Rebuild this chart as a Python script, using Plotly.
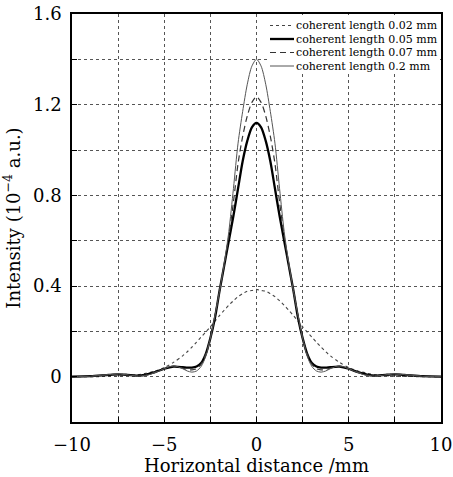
import plotly.graph_objects as go

# x positions (mm)
x_mm = [-10, -9, -8, -7.5, -7, -6.5, -6, -5.5, -5, -4.5, -4, -3.75, -3.5, -3.25, -3, -2.75,
        -2.5, -2.25, -2, -1.75, -1.5, -1.25, -1, -0.75, -0.5, -0.25,
        0, 0.25, 0.5, 0.75, 1, 1.25, 1.5, 1.75, 2, 2.25, 2.5, 2.75, 3, 3.25, 3.5, 3.75,
        4, 4.5, 5, 5.5, 6, 6.5, 7, 7.5, 8, 9, 10]

# Intensities (1e-4 a.u.)
len_002 = [0.0, 0.0, 0.001, 0.002, 0.004, 0.008, 0.015, 0.025, 0.04, 0.063, 0.092, 0.11, 0.13, 0.152,
           0.175, 0.197, 0.22, 0.245, 0.27, 0.293, 0.315, 0.335, 0.353, 0.366, 0.377, 0.38,
           0.385, 0.38, 0.377, 0.366, 0.353, 0.335, 0.315, 0.293, 0.27, 0.245, 0.22, 0.197,
           0.175, 0.152, 0.13, 0.11, 0.092, 0.063, 0.04, 0.025, 0.015, 0.008, 0.004, 0.002, 0.001, 0.0, 0.0]
len_005 = [0.0, 0.002, 0.008, 0.01, 0.008, 0.005, 0.009, 0.02, 0.035, 0.044, 0.042, 0.04, 0.04, 0.045,
           0.06, 0.10, 0.17, 0.26, 0.38, 0.49, 0.60, 0.71, 0.83, 0.95, 1.04, 1.10,
           1.12, 1.10, 1.04, 0.95, 0.83, 0.71, 0.60, 0.49, 0.38, 0.26, 0.17, 0.10,
           0.06, 0.045, 0.04, 0.04, 0.042, 0.044, 0.035, 0.02, 0.009, 0.005, 0.008, 0.01, 0.008, 0.002, 0.0]
len_007 = [0.0, 0.002, 0.008, 0.011, 0.008, 0.004, 0.007, 0.02, 0.035, 0.046, 0.038, 0.032, 0.03, 0.035,
           0.055, 0.10, 0.17, 0.27, 0.38, 0.49, 0.62, 0.77, 0.94, 1.06, 1.15, 1.21,
           1.235, 1.21, 1.15, 1.06, 0.94, 0.77, 0.62, 0.49, 0.38, 0.27, 0.17, 0.10,
           0.055, 0.035, 0.03, 0.032, 0.038, 0.046, 0.035, 0.02, 0.007, 0.004, 0.008, 0.011, 0.008, 0.002, 0.0]
len_02 = [0.0, 0.002, 0.009, 0.012, 0.008, 0.003, 0.005, 0.018, 0.035, 0.048, 0.035, 0.025, 0.02, 0.025,
          0.045, 0.09, 0.17, 0.27, 0.38, 0.50, 0.64, 0.83, 1.03, 1.17, 1.29, 1.37,
          1.40, 1.37, 1.29, 1.17, 1.03, 0.83, 0.64, 0.50, 0.38, 0.27, 0.17, 0.09,
          0.045, 0.025, 0.02, 0.025, 0.035, 0.048, 0.035, 0.018, 0.005, 0.003, 0.008, 0.012, 0.009, 0.002, 0.0]

series_names = ["coherent length 0.02 mm", "coherent length 0.05 mm",
                "coherent length 0.07 mm", "coherent length 0.2 mm"]

x_tickvals = [-10, -5, 0, 5, 10]
x_ticktext = ["\u221210", "\u22125", "0", "5", "10"]
y_tickvals = [0, 0.4, 0.8, 1.2, 1.6]
y_ticktext = ["0", "0.4", "0.8", "1.2", "1.6"]

FONT = "DejaVu Serif"
W, H = 453, 477
ML, MR, MT, MB = 72, 12, 14, 55
PW, PH = W - ML - MR, H - MT - MB


def px_x(px):
    return (px - ML) / PW


def px_y(py):
    return (H - MB - py) / PH


styles = [
    dict(color="#444444", width=1.1, dash="dot"),
    dict(color="#000000", width=2.3),
    dict(color="#333333", width=1.2, dash="6px,4px"),
    dict(color="#555555", width=1.0),
]

fig = go.Figure()
for name, ys, st in zip(series_names, [len_002, len_005, len_007, len_02], styles):
    fig.add_trace(go.Scatter(x=x_mm, y=ys, mode="lines", name=name, showlegend=False,
                             line=dict(shape="spline", smoothing=0.8, **st)))

GRID = dict(showgrid=True, gridcolor="#555555", gridwidth=1, griddash="3px,3px")
axis_common = dict(
    showline=True, linecolor="black", linewidth=1.5, mirror=True,
    ticks="inside", ticklen=5, tickcolor="black", tickwidth=1,
    zeroline=False, automargin=False,
    tickfont=dict(family=FONT, size=18, color="black"),
    **GRID,
)

fig.update_xaxes(range=[-10, 10], tickmode="array", tickvals=x_tickvals, ticktext=x_ticktext,
                 ticklabelstandoff=6,
                 minor=dict(tick0=-10, dtick=2.5, ticks="inside", ticklen=5, tickcolor="black",
                            tickwidth=1, **GRID),
                 title=dict(text="Horizontal distance /mm", font=dict(family=FONT, size=18, color="black"),
                            standoff=4),
                 **axis_common)
fig.update_yaxes(range=[-0.2, 1.6], tickmode="array", tickvals=y_tickvals, ticktext=y_ticktext,
                 ticklabelstandoff=5,
                 minor=dict(tick0=0, dtick=0.2, ticks="inside", ticklen=5, tickcolor="black",
                            tickwidth=1, **GRID),
                 title=dict(text="Intensity (10<sup>\u22124</sup> a.u.)",
                            font=dict(family=FONT, size=18, color="black"), standoff=8),
                 **axis_common)

# custom legend (white panel, short samples, tight rows)
shapes = [dict(type="rect", xref="paper", yref="paper", layer="above",
               x0=px_x(269), x1=px_x(440), y0=px_y(15), y1=px_y(74),
               fillcolor="white", line=dict(width=0))]
annotations = []
row_y = [25.5, 39, 52.5, 66]
for name, st, ry in zip(series_names, styles, row_y):
    shapes.append(dict(type="line", xref="paper", yref="paper", layer="above",
                       x0=px_x(270), x1=px_x(294), y0=px_y(ry), y1=px_y(ry),
                       line=dict(color=st["color"], width=st["width"], dash=st.get("dash", "solid"))))
    annotations.append(dict(xref="paper", yref="paper", x=px_x(294), y=px_y(ry),
                            xanchor="left", yanchor="middle", showarrow=False, text=name,
                            font=dict(family=FONT, size=11, color="black")))

fig.update_layout(
    template="none",
    width=W, height=H,
    margin=dict(l=ML, r=MR, t=MT, b=MB, autoexpand=False),
    plot_bgcolor="white", paper_bgcolor="white",
    font=dict(family=FONT, color="black"),
    showlegend=False,
    shapes=shapes, annotations=annotations,
)

fig.write_html("out.html")
